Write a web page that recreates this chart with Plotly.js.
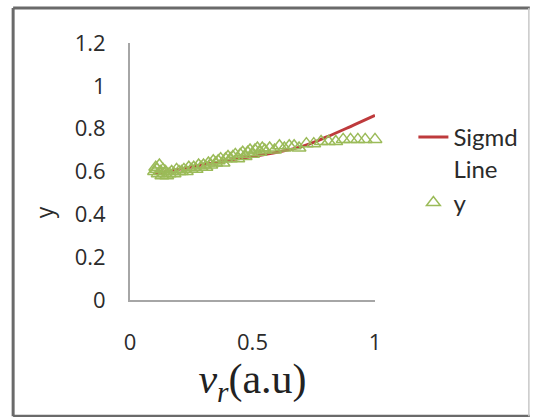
<!DOCTYPE html>
<html>
<head>
<meta charset="utf-8">
<script src="https://cdn.plot.ly/plotly-3.0.1.min.js"></script>
<style>html,body{margin:0;padding:0;background:#fff;}#chart{width:534px;height:417px;}</style>
</head>
<body>
<div id="chart"></div>
<script>
// Sigmoid fitted line
const sigX = [0.10, 0.20, 0.30, 0.40, 0.50, 0.60, 0.70, 0.80, 0.90, 1.00];
const sigY = [0.590, 0.610, 0.632, 0.652, 0.670, 0.690, 0.716, 0.760, 0.810, 0.862];

// Observed y (triangles)
const obsX = [0.10, 0.105, 0.11, 0.115, 0.12, 0.125, 0.13, 0.135, 0.14, 0.145, 0.15,
              0.16, 0.17, 0.18, 0.19, 0.20, 0.21, 0.22, 0.23, 0.24, 0.25,
              0.26, 0.27, 0.28, 0.29, 0.30, 0.31, 0.32, 0.33, 0.34, 0.35,
              0.36, 0.37, 0.38, 0.39, 0.40, 0.41, 0.42, 0.43, 0.44, 0.45,
              0.46, 0.47, 0.48, 0.49, 0.50, 0.51, 0.52, 0.53, 0.54, 0.55,
              0.57, 0.59, 0.61, 0.63, 0.65, 0.67, 0.69,
              0.72, 0.75, 0.78, 0.81, 0.84, 0.87, 0.90, 0.93, 0.96, 1.00];
const obsY = [0.60, 0.62, 0.61, 0.59, 0.63, 0.60, 0.58, 0.61, 0.59, 0.60, 0.58,
              0.59, 0.60, 0.59, 0.61, 0.60, 0.60, 0.61, 0.60, 0.62, 0.61,
              0.62, 0.61, 0.63, 0.62, 0.63, 0.62, 0.64, 0.63, 0.65, 0.64,
              0.65, 0.66, 0.64, 0.66, 0.67, 0.66, 0.67, 0.68, 0.66, 0.68,
              0.69, 0.67, 0.69, 0.70, 0.68, 0.70, 0.71, 0.69, 0.71, 0.70,
              0.71, 0.70, 0.72, 0.71, 0.72, 0.72, 0.71,
              0.73, 0.73, 0.74, 0.74, 0.74, 0.75, 0.75, 0.75, 0.75, 0.75];

const xTickVals = [0, 0.5, 1];
const xTickText = ['0', '0.5', '1'];
const yTickVals = [0, 0.2, 0.4, 0.6, 0.8, 1.0, 1.2];
const yTickText = ['0', '0.2', '0.4', '0.6', '0.8', '1', '1.2'];

const traces = [
  {
    x: sigX, y: sigY, type: 'scatter', mode: 'lines', name: 'Sigmd<br>Line',
    line: {color: '#be3a3c', width: 3, shape: 'spline'}
  },
  {
    x: obsX, y: obsY, type: 'scatter', mode: 'markers', name: 'y',
    marker: {symbol: 'triangle-up-open', size: 12, color: '#9bbb59', line: {width: 1.5, color: '#9bbb59'}},
    cliponaxis: false
  }
];

const tickFont = {family: '"Open Sans", Lato, sans-serif', size: 22, color: '#2b2b2b'};

const layout = {
  width: 534, height: 417,
  margin: {l: 130, r: 158, t: 43, b: 117},
  paper_bgcolor: '#ffffff', plot_bgcolor: '#ffffff',
  font: {family: '"Open Sans", Lato, sans-serif', size: 22, color: '#2b2b2b'},
  xaxis: {
    range: [0, 1], tickvals: xTickVals, ticktext: xTickText,
    showgrid: false, zeroline: false, showline: true, linecolor: '#a6a6a6', linewidth: 2,
    ticks: 'outside', ticklen: 22, tickcolor: 'rgba(0,0,0,0)',
    tickfont: tickFont,
    title: {text: '<i>v</i><sub><i>r</i></sub>(a.u)', standoff: 2,
            font: {family: '"Liberation Serif", "DejaVu Serif", serif', size: 42, color: '#222222'}},
    fixedrange: true
  },
  yaxis: {
    range: [0, 1.2], tickvals: yTickVals, ticktext: yTickText,
    showgrid: false, zeroline: false, showline: true, linecolor: '#a6a6a6', linewidth: 2,
    ticks: 'outside', ticklen: 18, tickcolor: 'rgba(0,0,0,0)',
    tickfont: tickFont,
    fixedrange: true
  },
  legend: {
    x: 1.152, y: 0.72, xanchor: 'left', yanchor: 'top', valign: 'top',
    bgcolor: 'rgba(0,0,0,0)', borderwidth: 0,
    font: {family: 'Lato, sans-serif', size: 24, color: '#2b2b2b'}
  },
  showlegend: true,
  annotations: [
    {text: 'y', xref: 'paper', yref: 'paper', x: (44 - 130) / 246, y: (300 - 212) / 257,
     xanchor: 'center', yanchor: 'middle', showarrow: false, textangle: -90,
     font: {family: '"Open Sans", Lato, sans-serif', size: 23, color: '#2b2b2b'}}
  ],
  shapes: [
    {type: 'line', xref: 'paper', yref: 'paper', x0: -0.477, x1: -0.477, y0: -0.452, y1: 1.136, line: {color: '#6a6a6a', width: 3}},
    {type: 'line', xref: 'paper', yref: 'paper', x0: -0.477, x1: 1.632, y0: 1.136, y1: 1.136, line: {color: '#6a6a6a', width: 3}},
    {type: 'line', xref: 'paper', yref: 'paper', x0: -0.477, x1: 1.632, y0: -0.452, y1: -0.452, line: {color: '#6a6a6a', width: 3}},
    {type: 'line', xref: 'paper', yref: 'paper', x0: 1.628, x1: 1.628, y0: -0.452, y1: 1.136, line: {color: '#c8c8c8', width: 1.5}}
  ]
};

Plotly.newPlot('chart', traces, layout, {staticPlot: true, displayModeBar: false});
</script>
</body>
</html>
